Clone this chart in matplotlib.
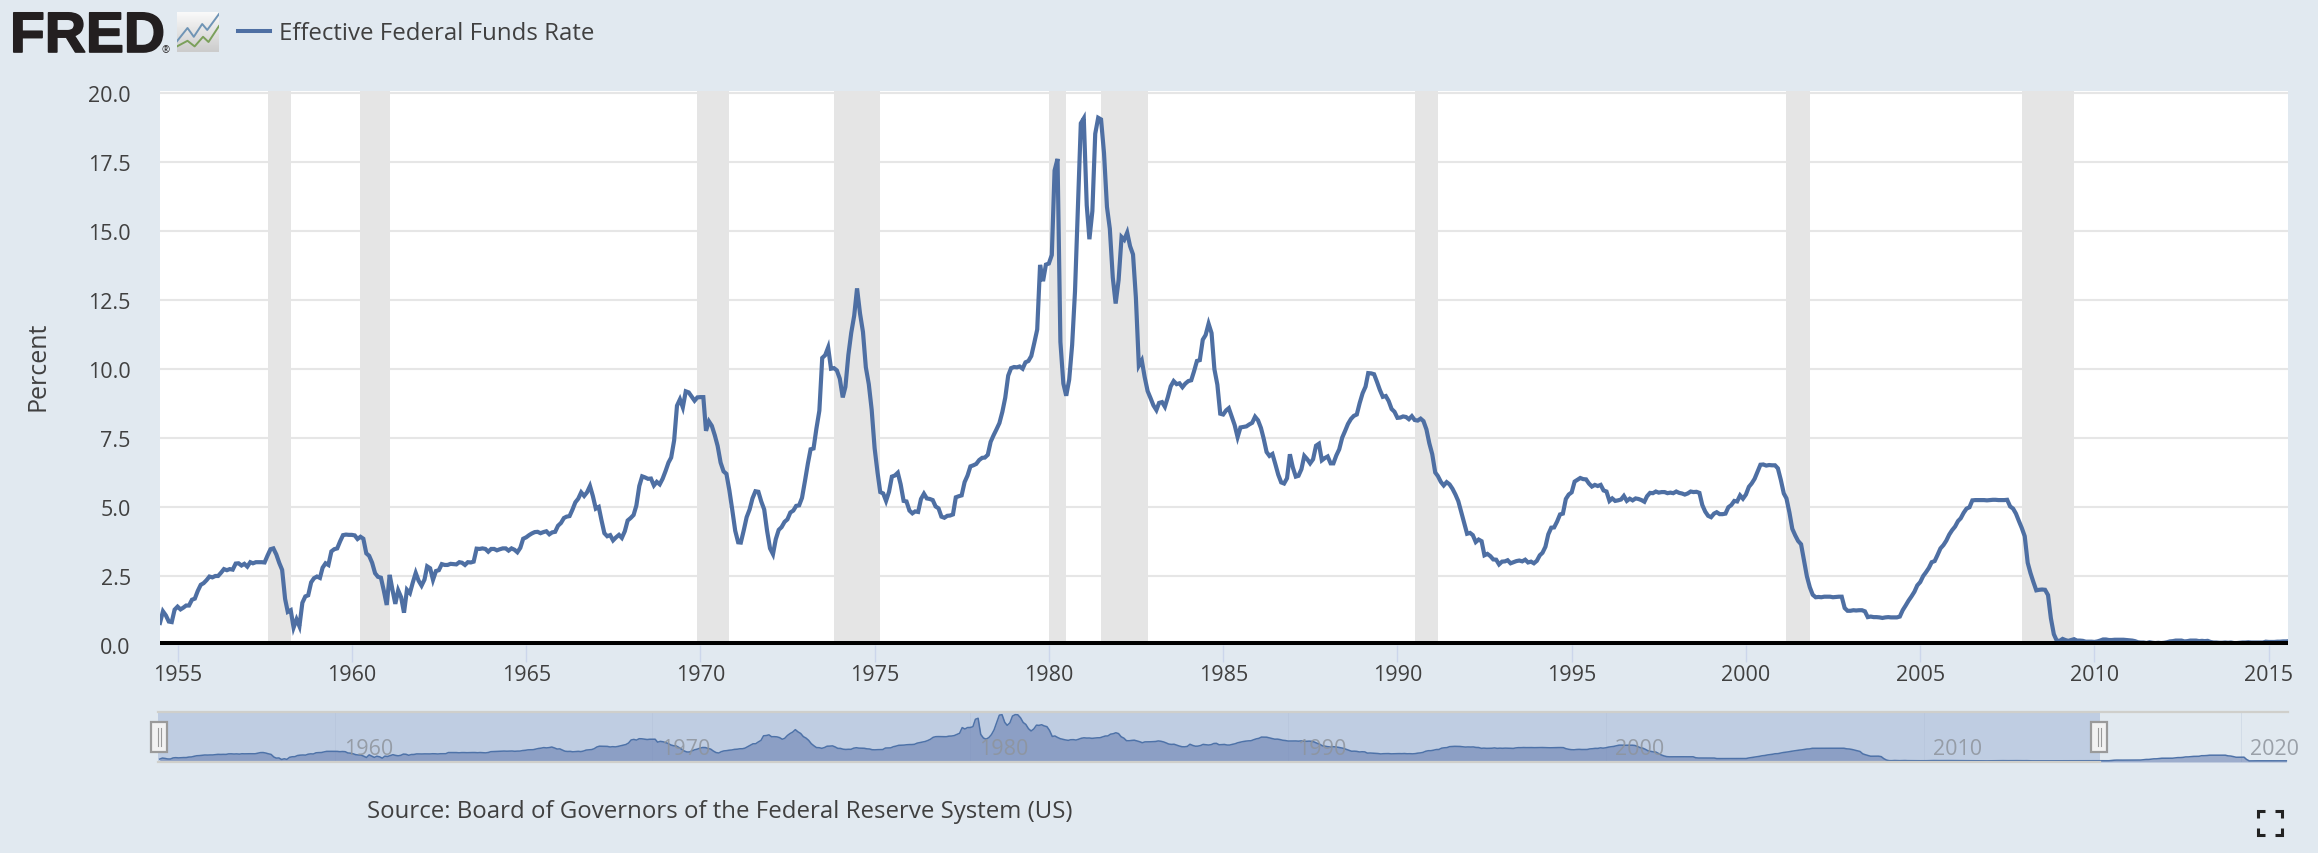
import numpy as np
import pandas as pd
import matplotlib
matplotlib.use('Agg')
import matplotlib.pyplot as plt
import matplotlib.patheffects as pe
from matplotlib.lines import Line2D
from matplotlib.patches import Rectangle

W, H = 2318, 854
BG = '#E1E9F0'
LINE = '#4E6FA3'
TEXT = '#404040'

plt.rcParams['font.family'] = ['Open Sans', 'DejaVu Sans']

# monthly effective rate, starts July 1954
rate = [
    0.80, 1.22, 1.07, 0.85, 0.83, 1.28,
    1.39, 1.29, 1.35, 1.43, 1.43, 1.64, 1.68, 1.96, 2.18, 2.24, 2.35, 2.48,
    2.45, 2.50, 2.50, 2.62, 2.75, 2.71, 2.75, 2.73, 2.95, 2.96, 2.88, 2.94,
    2.84, 3.00, 2.96, 3.00, 3.00, 3.00, 2.99, 3.24, 3.47, 3.50, 3.28, 2.98,
    2.72, 1.67, 1.20, 1.26, 0.63, 0.93, 0.68, 1.53, 1.76, 1.80, 2.27, 2.42,
    2.48, 2.43, 2.80, 2.96, 2.90, 3.39, 3.47, 3.50, 3.76, 3.98, 4.00, 3.99,
    3.99, 3.97, 3.84, 3.92, 3.85, 3.32, 3.23, 2.98, 2.60, 2.47, 2.44, 1.98,
    1.45, 2.54, 2.02, 1.49, 1.98, 1.73, 1.17, 2.00, 1.88, 2.26, 2.61, 2.33,
    2.15, 2.37, 2.85, 2.78, 2.36, 2.68, 2.71, 2.93, 2.90, 2.90, 2.94, 2.93,
    2.92, 3.00, 2.98, 2.90, 3.00, 2.99, 3.02, 3.49, 3.48, 3.50, 3.48, 3.38,
    3.48, 3.48, 3.43, 3.47, 3.50, 3.50, 3.42, 3.50, 3.45, 3.36, 3.52, 3.85,
    3.90, 3.98, 4.04, 4.09, 4.10, 4.05, 4.09, 4.12, 4.01, 4.08, 4.10, 4.32,
    4.42, 4.60, 4.65, 4.67, 4.90, 5.17, 5.30, 5.53, 5.40, 5.53, 5.76, 5.40,
    4.94, 5.00, 4.53, 4.05, 3.94, 3.98, 3.79, 3.90, 3.99, 3.88, 4.12, 4.51,
    4.60, 4.71, 5.05, 5.76, 6.11, 6.07, 6.02, 6.03, 5.78, 5.91, 5.82, 6.02,
    6.30, 6.61, 6.79, 7.41, 8.67, 8.90, 8.61, 9.19, 9.15, 9.00, 8.85, 8.97,
    8.98, 8.98, 7.76, 8.10, 7.94, 7.60, 7.21, 6.61, 6.29, 6.20, 5.60, 4.90,
    4.14, 3.72, 3.71, 4.16, 4.63, 4.91, 5.31, 5.57, 5.55, 5.20, 4.91, 4.14,
    3.50, 3.29, 3.83, 4.17, 4.27, 4.46, 4.55, 4.80, 4.87, 5.04, 5.06, 5.33,
    5.94, 6.58, 7.09, 7.12, 7.84, 8.49, 10.40, 10.50, 10.78, 10.01, 10.03, 9.95,
    9.65, 8.97, 9.35, 10.51, 11.31, 11.93, 12.92, 12.01, 11.34, 10.06, 9.45, 8.53,
    7.13, 6.24, 5.54, 5.49, 5.22, 5.55, 6.10, 6.14, 6.24, 5.82, 5.22, 5.20,
    4.87, 4.77, 4.84, 4.82, 5.29, 5.48, 5.31, 5.29, 5.25, 5.02, 4.95, 4.65,
    4.61, 4.68, 4.69, 4.73, 5.35, 5.39, 5.42, 5.90, 6.14, 6.47, 6.51, 6.56,
    6.70, 6.78, 6.79, 6.89, 7.36, 7.60, 7.81, 8.04, 8.45, 8.96, 9.76, 10.03,
    10.07, 10.06, 10.09, 10.01, 10.24, 10.29, 10.47, 10.94, 11.43, 13.77, 13.18, 13.78,
    13.82, 14.13, 17.19, 17.61, 10.98, 9.47, 9.03, 9.61, 10.87, 12.81, 15.85, 18.90,
    19.08, 15.93, 14.70, 15.72, 18.52, 19.10, 19.04, 17.82, 15.87, 15.08, 13.31, 12.37,
    13.22, 14.78, 14.68, 14.94, 14.45, 14.15, 12.59, 10.12, 10.31, 9.71, 9.20, 8.95,
    8.68, 8.51, 8.77, 8.80, 8.63, 8.98, 9.37, 9.56, 9.45, 9.48, 9.34, 9.47,
    9.56, 9.59, 9.91, 10.29, 10.32, 11.06, 11.23, 11.64, 11.30, 9.99, 9.43, 8.38,
    8.35, 8.50, 8.58, 8.27, 7.97, 7.53, 7.88, 7.90, 7.92, 7.99, 8.05, 8.27,
    8.14, 7.86, 7.48, 6.99, 6.85, 6.92, 6.56, 6.17, 5.89, 5.85, 6.04, 6.91,
    6.43, 6.10, 6.13, 6.37, 6.85, 6.73, 6.58, 6.73, 7.22, 7.29, 6.69, 6.77,
    6.83, 6.58, 6.58, 6.87, 7.09, 7.51, 7.75, 8.01, 8.19, 8.30, 8.35, 8.76,
    9.12, 9.36, 9.85, 9.84, 9.81, 9.53, 9.24, 8.99, 9.02, 8.84, 8.55, 8.45,
    8.23, 8.24, 8.28, 8.26, 8.18, 8.29, 8.15, 8.13, 8.20, 8.11, 7.81, 7.31,
    6.91, 6.25, 6.12, 5.91, 5.78, 5.90, 5.82, 5.66, 5.45, 5.21, 4.81, 4.43,
    4.03, 4.06, 3.98, 3.73, 3.82, 3.76, 3.25, 3.30, 3.22, 3.10, 3.09, 2.92,
    3.02, 3.03, 3.07, 2.96, 3.00, 3.04, 3.06, 3.03, 3.09, 2.99, 3.02, 2.96,
    3.05, 3.25, 3.34, 3.56, 4.01, 4.25, 4.26, 4.47, 4.73, 4.76, 5.29, 5.45,
    5.53, 5.92, 5.98, 6.05, 6.01, 6.00, 5.85, 5.74, 5.80, 5.76, 5.80, 5.60,
    5.56, 5.22, 5.31, 5.22, 5.24, 5.27, 5.40, 5.22, 5.30, 5.24, 5.31, 5.29,
    5.25, 5.19, 5.39, 5.51, 5.50, 5.56, 5.52, 5.54, 5.54, 5.50, 5.52, 5.50,
    5.56, 5.51, 5.49, 5.45, 5.49, 5.56, 5.54, 5.55, 5.51, 5.07, 4.83, 4.68,
    4.63, 4.76, 4.81, 4.74, 4.74, 4.76, 4.99, 5.07, 5.22, 5.20, 5.42, 5.30,
    5.45, 5.73, 5.85, 6.02, 6.27, 6.53, 6.54, 6.50, 6.52, 6.51, 6.51, 6.40,
    5.98, 5.49, 5.31, 4.80, 4.21, 3.97, 3.77, 3.65, 3.07, 2.49, 2.09, 1.82,
    1.73, 1.74, 1.73, 1.75, 1.75, 1.75, 1.73, 1.74, 1.75, 1.75, 1.34, 1.24,
    1.24, 1.26, 1.25, 1.26, 1.26, 1.22, 1.01, 1.03, 1.01, 1.01, 1.00, 0.98,
    1.00, 1.01, 1.00, 1.00, 1.00, 1.03, 1.26, 1.43, 1.61, 1.76, 1.93, 2.16,
    2.28, 2.50, 2.63, 2.79, 3.00, 3.04, 3.26, 3.50, 3.62, 3.78, 4.00, 4.16,
    4.29, 4.49, 4.59, 4.79, 4.94, 4.99, 5.24, 5.25, 5.25, 5.25, 5.25, 5.24,
    5.25, 5.26, 5.26, 5.25, 5.25, 5.25, 5.26, 5.02, 4.94, 4.76, 4.49, 4.24,
    3.94, 2.98, 2.61, 2.28, 1.98, 2.00, 2.01, 2.00, 1.81, 0.97, 0.39, 0.16,
    0.15, 0.22, 0.18, 0.15, 0.18, 0.21, 0.16, 0.16, 0.15, 0.12, 0.12, 0.12,
    0.11, 0.13, 0.16, 0.20, 0.20, 0.18, 0.18, 0.19, 0.19, 0.19, 0.19, 0.18,
    0.17, 0.16, 0.14, 0.10, 0.09, 0.09, 0.07, 0.10, 0.08, 0.07, 0.08, 0.07,
    0.08, 0.10, 0.13, 0.14, 0.16, 0.16, 0.16, 0.13, 0.14, 0.16, 0.16, 0.16,
    0.14, 0.15, 0.14, 0.15, 0.11, 0.09, 0.09, 0.08, 0.08, 0.09, 0.08, 0.09,
    0.07, 0.07, 0.08, 0.09, 0.09, 0.10, 0.09, 0.09, 0.09, 0.09, 0.09, 0.12,
    0.11, 0.11, 0.11, 0.12, 0.12, 0.13, 0.13, 0.14, 0.14, 0.12, 0.12, 0.24,
    0.34, 0.38, 0.36, 0.37, 0.37, 0.38, 0.39, 0.40, 0.40, 0.40, 0.41, 0.54,
    0.65, 0.66, 0.79, 0.90, 0.91, 1.04, 1.15, 1.16, 1.15, 1.15, 1.16, 1.30,
    1.41, 1.42, 1.51, 1.69, 1.70, 1.82, 1.91, 1.91, 1.95, 2.19, 2.20, 2.27,
    2.40, 2.40, 2.41, 2.42, 2.39, 2.38, 2.40, 2.13, 2.04, 1.83, 1.55, 1.55,
    1.55, 1.58, 0.65, 0.05, 0.05, 0.08, 0.09, 0.10, 0.09, 0.09, 0.09, 0.09,
    0.09, 0.08, 0.07, 0.07, 0.06, 0.08,
]

recession_start = ['1957-08-01', '1960-04-01', '1969-12-01', '1973-11-01', '1980-01-01',
                   '1981-07-01', '1990-07-01', '2001-03-01', '2007-12-01']
recession_end = ['1958-04-01', '1961-02-01', '1970-11-01', '1975-03-01', '1980-07-01',
                 '1982-11-01', '1991-03-01', '2001-11-01', '2009-06-01']

y_ticks = [0, 2.5, 5, 7.5, 10, 12.5, 15, 17.5, 20]
main_years = list(range(1955, 2016, 5))
nav_years = list(range(1960, 2021, 10))

dates = pd.date_range('1954-07-01', periods=len(rate), freq='MS')
view_start = pd.Timestamp('1954-07-01')
view_end = pd.Timestamp('2015-07-22')
nav_end = pd.Timestamp('2021-06-20')


def axes_px(fig, left, top, right, bottom):
    return fig.add_axes([left / W, 1 - bottom / H, (right - left) / W, (bottom - top) / H])


def fig_line(fig, xs, ys, **kw):
    fig.add_artist(Line2D([x / W for x in xs], [1 - y / H for y in ys], **kw))


def fig_text(fig, x, y, s, **kw):
    return fig.text(x / W, 1 - y / H, s, **kw)


fig = plt.figure(figsize=(W / 100, H / 100), dpi=100, facecolor=BG)

# main chart, white area starts 2px above the 20.0 gridline
ax = axes_px(fig, 160, 92, 2288, 646)
ax.set_facecolor('white')
ax.set_xlim(view_start, view_end)
ax.set_ylim(0, 20.07)
ax.set_axisbelow(True)
ax.grid(axis='y', color='#E6E6E6', lw=1.5)
for a, b in zip(recession_start, recession_end):
    ax.axvspan(pd.Timestamp(a), pd.Timestamp(b), color='#E5E5E5', lw=0, zorder=1.5)
ax.plot(dates, rate, color=LINE, lw=3.0, zorder=3, solid_joinstyle='miter')
for s in ax.spines.values():
    s.set_visible(False)
ax.set_yticks(y_ticks)
ax.set_yticklabels(['%.1f' % v for v in y_ticks], fontsize=15.5, color=TEXT)
ax.tick_params(axis='y', length=0, pad=21)
ax.set_xticks([pd.Timestamp(year=y, month=1, day=1) for y in main_years])
ax.set_xticklabels([str(y) for y in main_years], fontsize=15.5, color=TEXT)
ax.tick_params(axis='x', length=12, width=1, color='#CCD6EB', pad=2)
fig_line(fig, [160, 2288], [644.3, 644.3], color='black', lw=2.9, solid_capstyle='butt')
fig_text(fig, 38, 366, 'Percent', rotation=90, fontsize=18, color=TEXT, ha='center', va='center')

# navigator
nav = axes_px(fig, 158, 712, 2288, 763)
nav.set_facecolor('none')
nav.set_xlim(view_start - pd.Timedelta(days=20), nav_end)
nav.set_ylim(-0.4, 20.6)
nav.axvspan(view_start - pd.Timedelta(days=20), view_end, color='#BFCDE2', lw=0, zorder=1)
for y in nav_years:
    d = pd.Timestamp(year=y, month=1, day=1)
    nav.axvline(d, color='#A9B7CF', lw=0.6, alpha=0.3, zorder=1.5)
    nav.annotate(str(y), (d, 0), xytext=(6.5, 5), textcoords='offset points', fontsize=15.5,
                 color='#8E949C', alpha=0.85, annotation_clip=False, va='baseline', zorder=5)
nav.fill_between(dates, rate, -0.4, color='#5A73AA', alpha=0.5, lw=0, zorder=2)
nav.plot(dates, rate, color='#4E72A8', lw=1.1, zorder=3)
nav.set_xticks([])
nav.set_yticks([])
for s in nav.spines.values():
    s.set_visible(False)
fig_line(fig, [158, 2288], [712.5, 712.5], color='#CFCFCB', lw=1.6)
fig_line(fig, [158, 2100], [763, 763], color='#CFCFCB', lw=1.6)

# scroller handles
for left in [151, 2091]:
    fig.add_artist(Rectangle((left / W, 1 - 753 / H), 16 / W, 30 / H, transform=fig.transFigure,
                             fc='#F2F2F2', ec='#9A9A9A', lw=1.6))
    for dx in [6.5, 9.5]:
        fig_line(fig, [left + dx, left + dx], [729, 747], color='#9A9A9A', lw=0.8)

# header
logo = fig_text(fig, 10, 53, 'FRED', family=['Liberation Sans', 'DejaVu Sans'], weight='bold',
                fontsize=41, color='#231F20', va='baseline')
logo.set_path_effects([pe.withStroke(linewidth=1.2, foreground='#231F20')])
fig_text(fig, 162, 53, '\u00ae', fontsize=7, color='#231F20', va='baseline')

icon = axes_px(fig, 177, 13, 219, 53)
icon.imshow(np.linspace(0.98, 0.8, 40).reshape(-1, 1), cmap='gray', vmin=0, vmax=1,
            extent=[0, 1, 0, 1], aspect='auto')
icon.plot([0.0, 0.25, 0.4, 0.6, 0.72, 1.0], [0.27, 0.6, 0.38, 0.7, 0.55, 0.95], color='#6F94B5', lw=1.4)
icon.plot([0.0, 0.25, 0.42, 0.62, 0.75, 1.0], [0.14, 0.28, 0.14, 0.38, 0.25, 0.65], color='#7BA05B', lw=1.4)
icon.set_xlim(0, 1)
icon.set_ylim(0, 1)
icon.axis('off')

fig_line(fig, [238, 270], [32, 32], color=LINE, lw=2.9)
fig_text(fig, 279, 34, 'Effective Federal Funds Rate', fontsize=17.3, color=TEXT, va='center')
fig_text(fig, 367, 812, 'Source: Board of Governors of the Federal Reserve System (US)',
         fontsize=17.3, color=TEXT, va='center')

# fullscreen icon
for cx, cy, sx, sy in [(2258, 812, 1, 1), (2282, 812, -1, 1), (2258, 836, 1, -1), (2282, 836, -1, -1)]:
    fig_line(fig, [cx + sx * 7, cx, cx], [cy, cy, cy + sy * 7], color='#222222', lw=2.2,
             solid_joinstyle='miter', solid_capstyle='butt')

fig.savefig('out.png', dpi=100, facecolor=BG)
